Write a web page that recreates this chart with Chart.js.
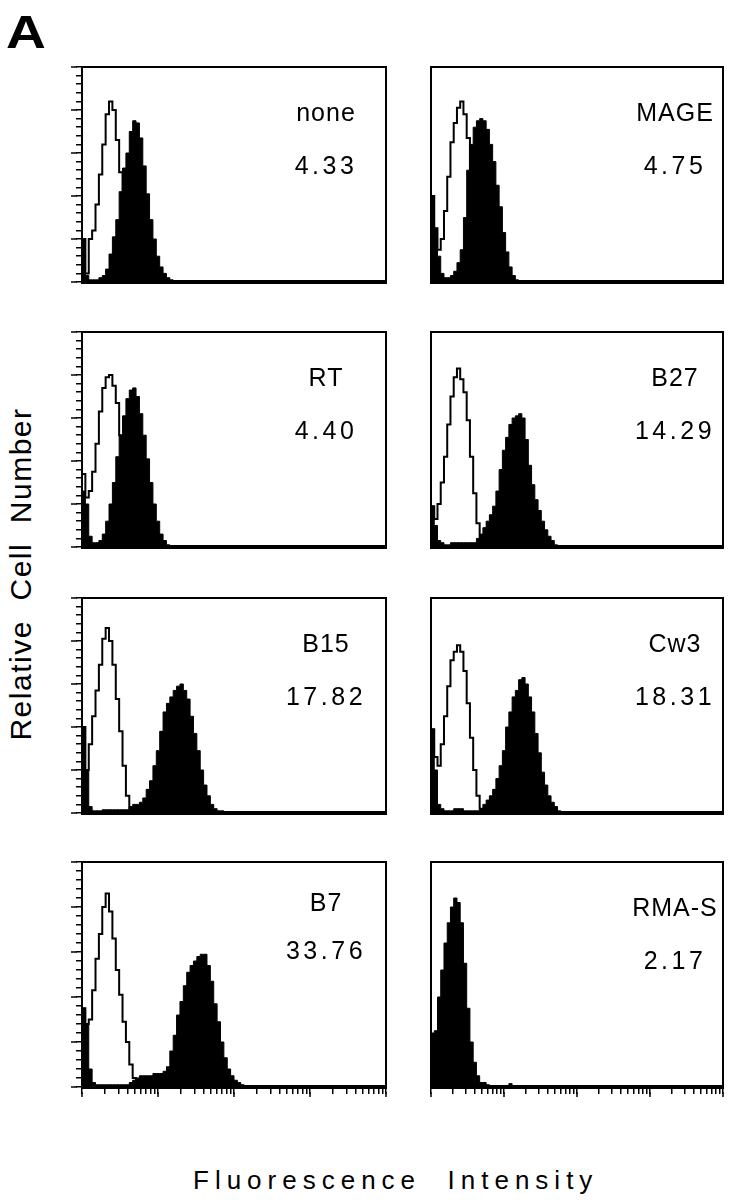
<!DOCTYPE html>
<html>
<head>
<meta charset="utf-8">
<script src="https://cdn.jsdelivr.net/npm/chart.js@4.4.1/dist/chart.umd.min.js"></script>
<style>
  body { margin: 0; background: #fff; }
  #page { position: relative; width: 730px; height: 1200px; overflow: hidden; font-family: "Liberation Sans", Arial, sans-serif; color: #000; }
  #page canvas { position: absolute; }
  .panel-letter { position: absolute; left: 6px; top: 9px; font-size: 46px; font-weight: bold; line-height: 1; transform: scaleX(1.2); transform-origin: left top; }
  .x-title { position: absolute; left: 193px; top: 1167px; font-size: 26px; line-height: 1; letter-spacing: 6px; white-space: pre; }
  .y-title { position: absolute; left: -179px; top: 559px; width: 400px; height: 30px; text-align: center; font-size: 30px; line-height: 30px; letter-spacing: 1.5px; white-space: pre; transform: rotate(-90deg); }
</style>
</head>
<body>
<div id="page">
  <div class="panel-letter">A</div>
  <div class="y-title">Relative  Cell  Number</div>
  <div class="x-title">Fluorescence  Intensity</div>
</div>
<script>
// panel names and the mean fluorescence printed in each panel
const panelNames = ['none', 'MAGE', 'RT', 'B27', 'B15', 'Cw3', 'B7', 'RMA-S'];
const panelValues = ['4.33', '4.75', '4.40', '14.29', '17.82', '18.31', '33.76', '2.17'];

// histogram counts per channel bin (% of panel height), open = control, filled = stained
const noneOpen = [20, 4, 20, 24, 36, 50, 64, 78, 84, 80, 66, 51, 37, 24, 13, 6, 2, 0];
const noneFilled = [20, 3, 1, 1, 1, 2, 3, 6, 13, 21, 29, 42, 53, 60, 70, 75, 74, 67, 54, 41, 29, 20, 12, 7, 4, 2, 1, 0];
const mageOpen = [40, 25, 15, 20, 33, 49, 65, 74, 81, 84, 78, 67, 52, 38, 24, 13, 6, 2, 0];
const mageFilled = [40, 25, 12, 4, 2, 2, 3, 5, 9, 15, 30, 52, 64, 72, 75, 76, 75, 71, 64, 56, 45, 35, 23, 14, 7, 3, 1, 0];
const rtOpen = [34, 23, 26, 35, 48, 63, 74, 79, 80, 75, 67, 52, 38, 25, 14, 7, 3, 1, 0];
const rtFilled = [26, 20, 5, 2, 2, 3, 6, 12, 20, 30, 42, 52, 61, 69, 73, 74, 70, 62, 52, 41, 30, 20, 12, 6, 3, 1, 0];
const b27Open = [19, 13, 20, 30, 42, 57, 70, 79, 83, 78, 72, 59, 42, 25, 11, 4, 1, 0];
const b27Filled = [19, 10, 3, 2, 1, 1, 2, 2, 2, 2, 2, 2, 2, 2, 4, 6, 9, 12, 15, 19, 26, 36, 45, 51, 57, 60, 61, 62, 60, 50, 38, 29, 22, 17, 12, 8, 5, 3, 1, 0];
const b15Open = [40, 20, 32, 45, 57, 69, 81, 86, 80, 69, 53, 38, 22, 8, 2, 0];
const b15Filled = [40, 20, 3, 1, 1, 1, 1.5, 1.5, 1.5, 1.5, 1.5, 1.5, 1.5, 1.5, 3, 4, 4, 5, 7, 11, 15, 22, 29, 38, 47, 51, 54, 57, 59, 60, 57, 53, 45, 37, 29, 20, 13, 8, 4, 2, 1, 1, 0];
const cw3Open = [39, 26, 22, 32, 45, 59, 71, 75, 78, 75, 66, 51, 35, 20, 8, 2, 0];
const cw3Filled = [39, 20, 4, 2, 1, 1, 1, 2, 2, 2, 1, 1, 1, 1, 1, 2, 4, 6, 8, 11, 16, 22, 29, 40, 47, 54, 57, 62, 63, 60, 54, 47, 37, 28, 19, 13, 8, 5, 3, 1, 0];
const b7Open = [35, 28, 30, 43, 57, 68, 80, 86, 78, 66, 52, 41, 29, 20, 10, 4, 1, 0];
const b7Filled = [35, 28, 8, 2, 1, 1, 1, 1, 1, 1, 1, 1, 1, 1, 2, 3, 4, 5, 5, 5, 5, 6, 6, 6, 7, 9, 16, 23, 32, 38, 45, 51, 54, 56, 58, 59, 59, 54, 47, 37, 29, 20, 13, 8, 5, 3, 2, 1, 0];
const rmasOpen = [];
const rmasFilled = [24, 25, 40, 52, 64, 73, 80, 84, 82, 73, 55, 35, 20, 11, 5, 2, 2, 1, 0.5, 0.5, 0.5, 0.5, 0.5, 0.5, 1.5, 0.5, 0];

const openCounts = [noneOpen, mageOpen, rtOpen, b27Open, b15Open, cw3Open, b7Open, rmasOpen];
const filledCounts = [noneFilled, mageFilled, rtFilled, b27Filled, b15Filled, cw3Filled, b7Filled, rmasFilled];

// tick marks
const yMinorTicks = [0, 4, 8, 12, 16, 20, 24, 28, 32, 36, 40, 44, 48, 52, 56, 60, 64, 68, 72, 76, 80, 84, 88, 92, 96, 100];
const yMajorTicks = [0, 20, 40, 60, 80, 100];
const xLogTicks = [1, 2, 3, 4, 5, 6, 7, 8, 9, 10, 20, 30, 40, 50, 60, 70, 80, 90, 100, 200, 300, 400, 500, 600, 700, 800, 900,
  1000, 2000, 3000, 4000, 5000, 6000, 7000, 8000, 9000, 10000];
const xMajorTicks = [1, 10, 100, 1000, 10000];

const NBINS = 90;
const binLabels = [];
for (let i = 0; i <= NBINS; i++) binLabels.push(i);

// page layout
const colLeft = [82, 419];
const rowTop = [67, 332, 598, 862];
const areaW = 304, areaH = 225;

const framePlugin = {
  id: 'frame',
  afterDraw(chart, args, opts) {
    const { ctx, chartArea: a } = chart;
    ctx.save();
    ctx.strokeStyle = '#000';
    ctx.lineWidth = 2;
    ctx.strokeRect(a.left, a.top, a.right - a.left, a.bottom - a.top);
    ctx.lineWidth = 4;
    ctx.beginPath();
    ctx.moveTo(a.left - 1, a.bottom);
    ctx.lineTo(a.right + 1, a.bottom);
    ctx.stroke();

    // longer marks at the major ticks
    ctx.lineWidth = 1.5;
    if (opts.yTicks) {
      const y = chart.scales.y;
      yMajorTicks.forEach(v => {
        const py = y.getPixelForValue(v);
        ctx.beginPath();
        ctx.moveTo(a.left - 11, py);
        ctx.lineTo(a.left - 5, py);
        ctx.stroke();
      });
    }
    if (opts.xTicks) {
      const x = chart.scales.xLog;
      xMajorTicks.forEach(v => {
        const px = x.getPixelForValue(v);
        ctx.beginPath();
        ctx.moveTo(px, a.bottom + 5);
        ctx.lineTo(px, a.bottom + 10);
        ctx.stroke();
      });
    }

    ctx.fillStyle = '#000';
    ctx.textAlign = 'center';
    ctx.font = '25px "Liberation Sans", Arial, sans-serif';
    ctx.letterSpacing = '1px';
    ctx.fillText(opts.name, a.left + 244, a.top + opts.nameY);
    ctx.letterSpacing = '3.5px';
    ctx.fillText(opts.value, a.left + 244, a.top + opts.valueY);
    ctx.restore();
  }
};

const page = document.getElementById('page');

panelNames.forEach((name, i) => {
  const col = i % 2;
  const row = Math.floor(i / 2);
  const hasY = col === 0;
  const hasX = row === 3;

  const canvas = document.createElement('canvas');
  canvas.width = areaW + 18;
  canvas.height = areaH + 18;
  canvas.style.left = (colLeft[col] - 14) + 'px';
  canvas.style.top = (rowTop[row] - 4) + 'px';
  page.appendChild(canvas);

  const datasets = [];
  if (openCounts[i].length) {
    datasets.push({
      data: openCounts[i],
      stepped: true,
      fill: false,
      borderColor: '#000',
      borderWidth: 2,
      pointRadius: 0
    });
  }
  datasets.push({
    data: filledCounts[i],
    stepped: true,
    fill: 'origin',
    backgroundColor: '#000',
    borderColor: '#000',
    borderWidth: 1,
    pointRadius: 0
  });

  new Chart(canvas, {
    type: 'line',
    data: { labels: binLabels, datasets: datasets },
    options: {
      responsive: false,
      animation: false,
      devicePixelRatio: 1,
      layout: { padding: { left: hasY ? 2 : 14, right: 4, top: 4, bottom: hasX ? 4 : 14 } },
      plugins: {
        legend: { display: false },
        tooltip: { enabled: false },
        frame: {
          name: name,
          value: panelValues[i],
          nameY: name === 'B7' ? 49 : 54,
          valueY: name === 'B7' ? 97 : 107,
          yTicks: hasY,
          xTicks: hasX
        }
      },
      scales: {
        x: { type: 'category', display: false, offset: false },
        y: {
          min: 0,
          max: 100,
          display: hasY,
          position: 'left',
          afterFit: s => { s.width = 12; },
          afterBuildTicks: s => { s.ticks = yMinorTicks.map(v => ({ value: v })); },
          ticks: { display: false },
          grid: { drawOnChartArea: false, drawTicks: true, tickLength: 6, color: '#000', lineWidth: 1.5 },
          border: { display: false }
        },
        xLog: {
          type: 'logarithmic',
          position: 'bottom',
          min: 1,
          max: 10000,
          display: hasX,
          afterFit: s => { s.height = 10; },
          afterBuildTicks: s => { s.ticks = xLogTicks.map(v => ({ value: v })); },
          ticks: { display: false },
          grid: { drawOnChartArea: false, drawTicks: true, tickLength: 7, color: '#000', lineWidth: 1.5 },
          border: { display: false }
        }
      }
    },
    plugins: [framePlugin]
  });
});
</script>
</body>
</html>
